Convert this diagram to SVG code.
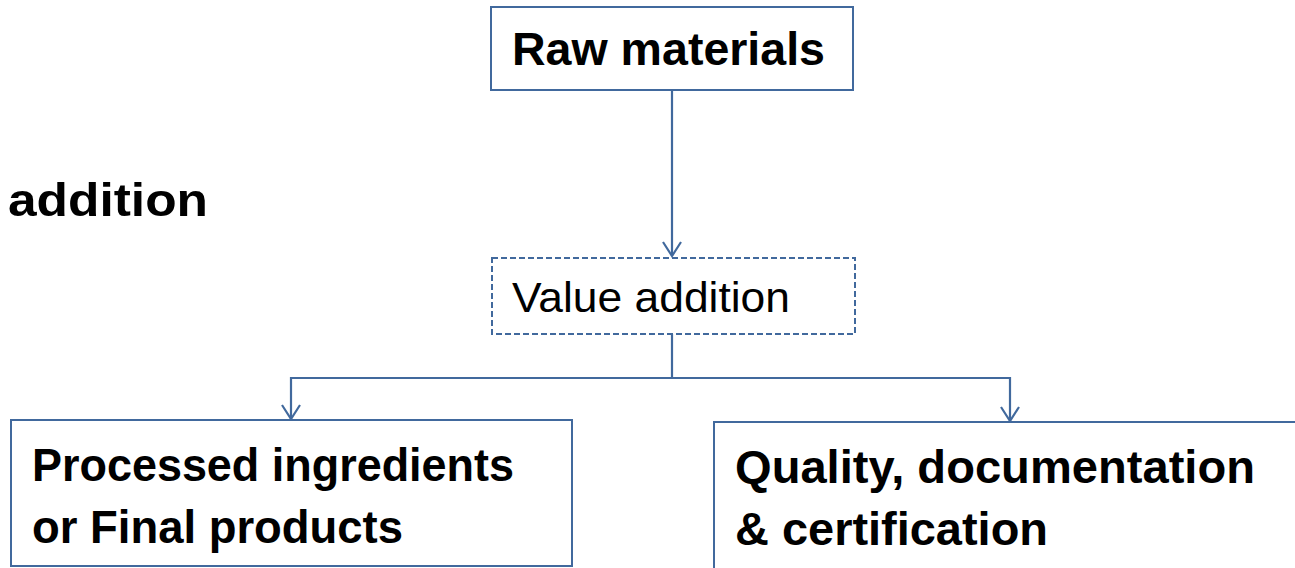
<svg xmlns="http://www.w3.org/2000/svg" width="1295" height="568" viewBox="0 0 1295 568">
<style>
.box{fill:#fff;stroke:#41699d;stroke-width:2}
.dash{fill:#fff;stroke:#41699d;stroke-width:2;stroke-dasharray:6 3}
.b{font-family:"Liberation Sans",Arial,sans-serif;font-weight:bold;font-size:47px;fill:#000}
.r{font-family:"Liberation Sans",Arial,sans-serif;font-size:42px;fill:#000}
.c{fill:none;stroke:#41699d;stroke-width:2.2}
</style>
<defs>
<marker id="arr" viewBox="0 0 20 20" refX="10" refY="18" markerWidth="20" markerHeight="20" markerUnits="userSpaceOnUse" orient="0">
<path d="M1,4 L10,18 L19,4" fill="none" stroke="#41699d" stroke-width="2.2"/>
</marker>
</defs>
<rect width="1295" height="568" fill="#fff"/>
<g id="connectors">
<path class="c" d="M672,90 V256" marker-end="url(#arr)"/>
<path class="c" d="M672,334 V378 H291 V419" marker-end="url(#arr)"/>
<path class="c" d="M672,378 H1010 V421" marker-end="url(#arr)"/>
</g>
<g id="raw">
<rect class="box" x="491" y="7" width="362" height="83"/>
<text class="b" x="512" y="65" textLength="313" lengthAdjust="spacingAndGlyphs">Raw materials</text>
</g>
<g id="value">
<rect class="dash" x="492" y="258" width="363" height="76"/>
<text class="r" x="512" y="312" textLength="278" lengthAdjust="spacingAndGlyphs">Value addition</text>
</g>
<g id="addition">
<text class="b" x="8" y="216" textLength="200" lengthAdjust="spacingAndGlyphs">addition</text>
</g>
<g id="processed">
<rect class="box" x="11" y="420" width="561" height="146"/>
<text class="b" x="32" y="481" textLength="482" lengthAdjust="spacingAndGlyphs">Processed ingredients</text>
<text class="b" x="32" y="543" textLength="371" lengthAdjust="spacingAndGlyphs">or Final products</text>
</g>
<g id="quality">
<rect class="box" x="714" y="422" width="600" height="160"/>
<text class="b" x="735" y="483" textLength="520" lengthAdjust="spacingAndGlyphs">Quality, documentation</text>
<text class="b" x="735" y="545" textLength="313" lengthAdjust="spacingAndGlyphs">&amp; certification</text>
</g>
</svg>
